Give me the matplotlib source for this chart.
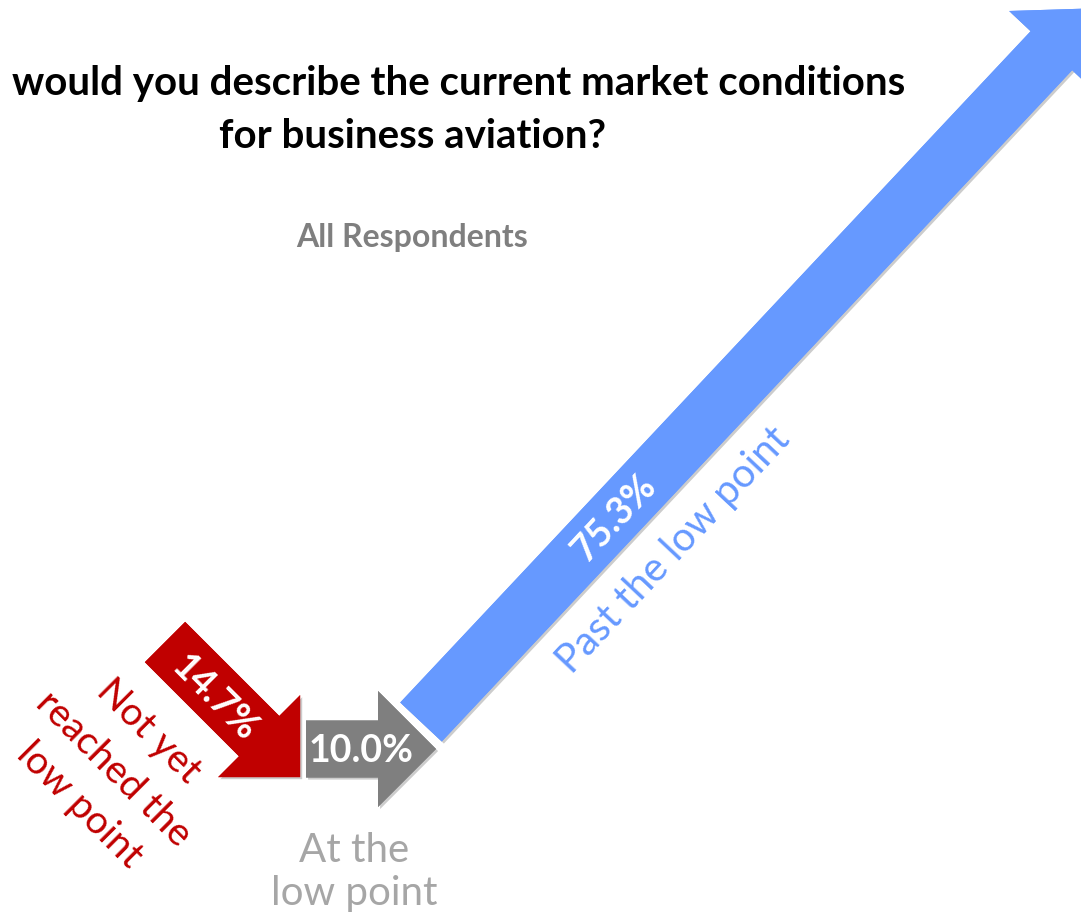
import numpy as np
import matplotlib.pyplot as plt
from matplotlib.patches import FancyArrow
import matplotlib.patheffects as pe

# survey data
labels = ['Not yet\nreached the\nlow point', 'At the\nlow point', 'Past the low point']
values = [14.7, 10.0, 75.3]
colors = ['#C00000', '#7F7F7F', '#6699FF']
label_colors = ['#C00000', '#A6A6A6', '#6699FF']

# layout (pixel space, y pointing down)
px_per_pct = 13.0
tails = [(165, 643), (306, 750), (421, 723)]
angles = [-45.0, 0.0, 46.8]     # screen angle, counter-clockwise
shaft_w, head_w, head_l = 57, 116, 58

plt.rcParams['font.family'] = ['Lato', 'DejaVu Sans']

fig = plt.figure(figsize=(10.81, 9.20), dpi=100)
ax = fig.add_axes([0, 0, 1, 1])
ax.set_xlim(0, 1081)
ax.set_ylim(920, 0)
ax.axis('off')

shadow = [pe.withSimplePatchShadow(offset=(1.5, -1.5), shadow_rgbFace='k', alpha=0.2), pe.Normal()]

for (x0, y0), ang, v, c in zip(tails, angles, values, colors):
    L = v * px_per_pct
    a = np.deg2rad(ang)
    dx, dy = L * np.cos(a), -L * np.sin(a)
    arr = FancyArrow(x0, y0, dx, dy, width=shaft_w, head_width=head_w, head_length=head_l,
                     length_includes_head=True, color=c, lw=0)
    arr.set_path_effects(shadow)
    ax.add_patch(arr)

# value labels inside the arrows
ax.text(214, 698, f'{values[0]:.1f}%', rotation=-45, rotation_mode='anchor', ha='center', va='center',
        color='white', fontsize=27, fontweight='bold')
ax.text(361, 751, f'{values[1]:.1f}%', ha='center', va='center',
        color='white', fontsize=27, fontweight='bold')
ax.text(614, 518, f'{values[2]:.1f}%', rotation=46.8, rotation_mode='anchor', ha='center', va='center',
        color='white', fontsize=27, fontweight='bold')

# category labels
# rotated red label: one text per line so each stays inside the figure
red_centres = [(149, 731), (114, 769), (80, 805)]
for line, (x, y) in zip(labels[0].split('\n'), red_centres):
    ax.text(x, y, line, rotation=-45, rotation_mode='anchor', ha='center', va='center',
            color=label_colors[0], fontsize=28)
ax.text(354, 872, labels[1], ha='center', va='center',
        color=label_colors[1], fontsize=29, linespacing=1.2, multialignment='center')
ax.text(673, 550, labels[2], rotation=46.8, rotation_mode='anchor', ha='center', va='center',
        color=label_colors[2], fontsize=29)

# titles
ax.text(459, 83, 'would you describe the current market conditions', ha='center', va='center',
        fontsize=29, fontweight='bold', color='black')
ax.text(413, 136, 'for business aviation?', ha='center', va='center',
        fontsize=29, fontweight='bold', color='black')
ax.text(412, 238, 'All Respondents', ha='center', va='center',
        fontsize=23, fontweight='bold', color='#7F7F7F')

fig.savefig('out.png', dpi=100)
